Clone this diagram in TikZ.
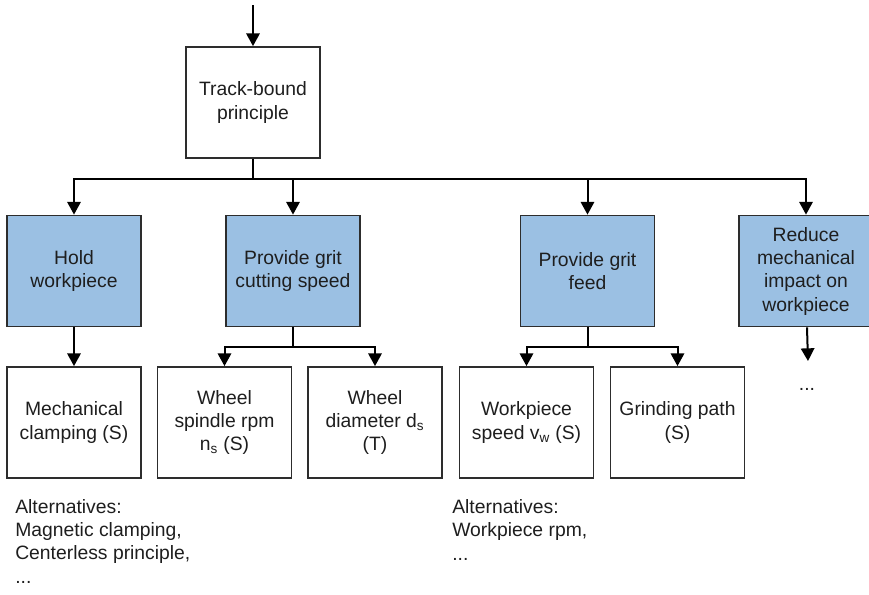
\documentclass[tikz,border=0pt]{standalone}
\usepackage{fontspec}
\setmainfont{Liberation Sans}
\usetikzlibrary{arrows.meta}

\definecolor{funcblue}{RGB}{155,192,227}
\definecolor{boxline}{RGB}{45,45,45}
\definecolor{inktext}{RGB}{30,30,30}

\tikzset{
  basebox/.style={draw=boxline, line width=1.1pt, minimum width=100.5pt,
    minimum height=83.5pt, inner sep=0pt, align=center, text=inktext,
    font=\fontsize{14.5pt}{17.5pt}\selectfont},
  funcbox/.style={basebox, fill=funcblue},
  solbox/.style={basebox, fill=white},
  link/.style={draw=black, line width=1.5pt},
  arr/.style={link, -{Triangle[width=10pt,length=9.5pt]}},
  note/.style={align=left, inner sep=0pt, text=inktext,
    font=\fontsize{14.5pt}{17.5pt}\selectfont}
}

\begin{document}
\begin{tikzpicture}[x=0.75pt, y=-0.75pt]
\useasboundingbox (0,0) rectangle (869,594);
\clip (0,0) rectangle (869,594);

% principle at the top
\node[solbox] (top) at (253,102.5) {Track-bound\\principle};

% sub-functions
\node[funcbox] (hold)   at (74,271)    {Hold\\workpiece};
\node[funcbox] (speed)  at (293,271)   {Provide grit\\cutting speed};
\node[funcbox] (feed)   at (587.5,271) {Provide grit\\feed};
\node[funcbox] (reduce) at (806,271)   {Reduce\\mechanical\\impact on\\workpiece};

% solution principles
\node[solbox] (mech)    at (74,422.5)    {Mechanical\\clamping (S)};
\node[solbox] (spindle) at (224.5,422.5) {Wheel\\spindle rpm\\n\textsubscript{s} (S)};
\node[solbox] (diam)    at (375,422.5)   {Wheel\\diameter d\textsubscript{s}\\(T)};
\node[solbox] (wpspeed) at (526.5,422.5) {Workpiece\\speed v\textsubscript{w} (S)};
\node[solbox] (grind)   at (677.5,422.5) {Grinding path\\(S)};

% alternatives and continuation marks (anchored on the last line)
\node[note, anchor=base west] (alt1) at (15,583)
  {Alternatives:\\Magnetic clamping,\\Centerless principle,\\...};
\node[note, anchor=base west] (alt2) at (452,560)
  {Alternatives:\\Workpiece rpm,\\...};
\node[note, anchor=base] (more) at (807,390) {...};

% incoming arrow
\coordinate (in) at (253,5);
\draw[arr] (in) -- (top.north);

% branching to the sub-functions
\path (top.south) ++(0,20) coordinate (j);
\draw[link] (top.south) -- (j);
\draw[arr] (j) -| (hold.north);
\draw[arr] (j) -| (speed.north);
\draw[arr] (j) -| (feed.north);
\draw[arr] (j) -| (reduce.north);

% hold workpiece
\draw[arr] (hold.south) -- (mech.north);

% cutting speed branch
\path (speed.south) ++(0,20) coordinate (js);
\draw[link] (speed.south) -- (js);
\draw[arr] (js) -| (spindle.north);
\draw[arr] (js) -| (diam.north);

% feed branch
\path (feed.south) ++(0,20) coordinate (jf);
\draw[link] (feed.south) -- (jf);
\draw[arr] (jf) -| (wpspeed.north);
\draw[arr] (jf) -| (grind.north);

% open continuation below the last function
\coordinate (rend) at (808,361);
\draw[arr] ([xshift=0.75pt]reduce.south) -- (rend);
\end{tikzpicture}
\end{document}
